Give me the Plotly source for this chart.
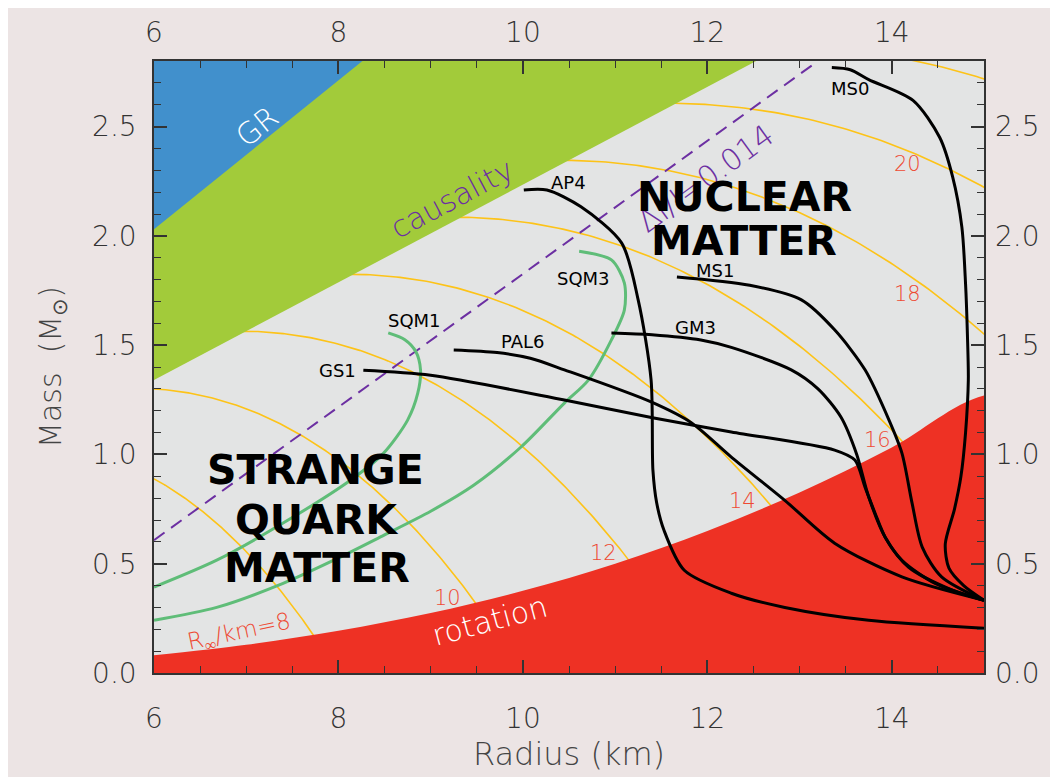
import numpy as np
import plotly.graph_objects as go

# ---------------- data ----------------
radius_range = [6, 15]
mass_range = [0, 2.8]

# GR (Schwarzschild) boundary, causality boundary, rotation (mass-shedding) boundary
gr_R = [6.0, 8.26]
gr_M = [2.03, 2.80]
caus_R = [6.0, 12.53]
caus_M = [1.34, 2.80]
rot_R = [6, 7, 8, 9, 10, 11, 12, 13, 14, 15]
rot_M = [0.081, 0.129, 0.193, 0.274, 0.376, 0.50, 0.65, 0.826, 1.032, 1.27]
# crust moment of inertia line dI/I = 0.014
crust_R = [6.0, 13.2]
crust_M = [0.608, 2.80]

# R_infinity contour levels (km)
rinf_levels = [8, 10, 12, 14, 16, 18, 20, 22]

# neutron-star EOS curves
ms0_R = [13.35, 13.55, 13.75, 14.23, 14.52, 14.66, 14.76, 14.80, 14.82, 14.83, 14.80, 14.75, 14.68, 14.58, 14.62, 14.78, 15.0]
ms0_M = [2.77, 2.76, 2.715, 2.62, 2.45, 2.27, 2.04, 1.78, 1.55, 1.34, 1.10, 0.90, 0.75, 0.59, 0.48, 0.40, 0.333]
ap4_R = [10.01, 10.26, 10.63, 11.07, 11.25, 11.39, 11.41, 11.45, 11.53, 11.75, 12.26, 12.84, 13.75, 15.0]
ap4_M = [2.21, 2.21, 2.133, 1.968, 1.707, 1.341, 0.928, 0.78, 0.653, 0.47, 0.365, 0.30, 0.241, 0.205]
ms1_R = [11.67, 12.46, 13.02, 13.38, 13.71, 13.97, 14.11, 14.22, 14.33, 14.54, 15.0]
ms1_M = [1.812, 1.774, 1.707, 1.57, 1.387, 1.157, 1.006, 0.777, 0.576, 0.44, 0.333]
gm3_R = [10.96, 11.40, 11.93, 12.26, 12.91, 13.20, 13.45, 13.62, 13.75, 13.93, 14.18, 14.65, 15.0]
gm3_M = [1.556, 1.548, 1.524, 1.49, 1.387, 1.30, 1.17, 1.00, 0.805, 0.62, 0.485, 0.38, 0.333]
pal6_R = [9.25, 9.72, 10.08, 10.45, 11.39, 11.83, 12.26, 12.84, 13.38, 14.11, 15.0]
pal6_M = [1.478, 1.466, 1.44, 1.387, 1.24, 1.144, 0.988, 0.79, 0.594, 0.44, 0.333]
gs1_R = [8.27, 9.0, 10.45, 11.42, 12.26, 13.38, 13.60, 13.71, 13.82, 13.93, 14.11, 14.47, 15.0]
gs1_M = [1.385, 1.362, 1.249, 1.167, 1.103, 1.02, 0.974, 0.85, 0.73, 0.62, 0.516, 0.41, 0.333]
# strange quark matter curves
sqm1_R = [8.54, 8.72, 8.84, 8.89, 8.86, 8.75, 8.49, 8.13, 7.40, 6.68, 6.0]
sqm1_M = [1.556, 1.525, 1.47, 1.387, 1.28, 1.157, 1.006, 0.882, 0.686, 0.516, 0.393]
sqm3_R = [10.61, 10.96, 11.10, 11.10, 10.96, 10.71, 10.45, 9.98, 9.47, 9.0, 8.49, 7.95, 7.40, 6.68, 6.0]
sqm3_M = [1.93, 1.89, 1.785, 1.66, 1.524, 1.34, 1.235, 1.034, 0.86, 0.74, 0.63, 0.516, 0.41, 0.30, 0.241]

curve_labels = ["MS0", "AP4", "MS1", "GM3", "SQM3", "SQM1", "PAL6", "GS1"]
curve_label_R = [13.55, 10.49, 12.08, 11.87, 10.66, 8.83, 10.0, 7.985]
curve_label_M = [2.674, 2.244, 1.842, 1.581, 1.805, 1.613, 1.518, 1.385]

rinf_label_text = ["R<sub>∞</sub>/km=8", "10", "12", "14", "16", "18", "20"]
rinf_label_R = [6.93, 9.178, 10.87, 12.377, 13.84, 14.167, 14.167]
rinf_label_M = [0.182, 0.3417, 0.548, 0.788, 1.064, 1.736, 2.331]
rinf_label_angle = [-12, 0, 0, 0, 0, 0, 0]
rinf_label_size = [23, 21, 21, 21, 21, 21, 21]

big_words = ["NUCLEAR", "MATTER", "STRANGE", "QUARK", "MATTER"]
big_words_R = [12.398, 12.398, 7.746, 7.768, 7.768]
big_words_M = [2.176, 1.975, 0.927, 0.699, 0.479]

# ---------------- styles ----------------
FONT = "DejaVu Sans"
C_BLUE = "#4190cc"
C_GREEN = "#a2cb3a"
C_RED = "#ee3124"
C_ORANGE = "#fdc318"
C_PURPLE = "#6c2fa2"
C_SQM = "#5fbd78"
C_LBL = "#ee4a33"
C_AX = "#333333"

fig = go.Figure()

# R_infinity contours: R_inf = R / sqrt(1 - 2GM/Rc^2)
for lev in rinf_levels:
    R = np.linspace(5.9, min(lev, 15.2), 200)
    M = (R / 2.953) * (1 - (R / lev) ** 2)
    fig.add_trace(go.Scatter(x=R, y=M, mode="lines", line=dict(color=C_ORANGE, width=1.6),
                             hoverinfo="skip", showlegend=False))

# causality (green)
fig.add_trace(go.Scatter(x=caus_R + [caus_R[-1], 5.0, 5.0], y=caus_M + [3.5, 3.5, caus_M[0]],
                         fill="toself", fillcolor=C_GREEN, mode="lines", line=dict(width=0, color=C_GREEN),
                         hoverinfo="skip", showlegend=False))
# GR (blue)
fig.add_trace(go.Scatter(x=gr_R + [gr_R[-1], 5.0, 5.0], y=gr_M + [3.5, 3.5, gr_M[0]],
                         fill="toself", fillcolor=C_BLUE, mode="lines", line=dict(width=0, color=C_BLUE),
                         hoverinfo="skip", showlegend=False))
# rotation (red)
fig.add_trace(go.Scatter(x=rot_R + [16, 16, 5, 5], y=rot_M + [rot_M[-1], -1, -1, rot_M[0]],
                         fill="toself", fillcolor=C_RED, mode="lines", line=dict(width=0, color=C_RED, shape="spline"),
                         hoverinfo="skip", showlegend=False))
# crust line (dashed purple)
fig.add_trace(go.Scatter(x=crust_R, y=crust_M, mode="lines",
                         line=dict(color=C_PURPLE, width=2, dash="13px,8px"),
                         hoverinfo="skip", showlegend=False))

# strange quark matter curves
for xs, ys in [(sqm1_R, sqm1_M), (sqm3_R, sqm3_M)]:
    fig.add_trace(go.Scatter(x=xs, y=ys, mode="lines",
                             line=dict(color=C_SQM, width=3, shape="spline", smoothing=0.8),
                             hoverinfo="skip", showlegend=False))
# neutron star curves
for xs, ys in [(ms0_R, ms0_M), (ap4_R, ap4_M), (ms1_R, ms1_M), (gm3_R, gm3_M),
               (pal6_R, pal6_M), (gs1_R, gs1_M)]:
    fig.add_trace(go.Scatter(x=xs, y=ys, mode="lines",
                             line=dict(color="black", width=3, shape="spline", smoothing=0.8),
                             hoverinfo="skip", showlegend=False))

# dummy trace for mirrored labelled axes
fig.add_trace(go.Scatter(x=[None], y=[None], xaxis="x2", yaxis="y2", showlegend=False, hoverinfo="skip"))

ann = []
# region labels
ann.append(dict(x=7.117, y=2.50, text="GR", textangle=-39, font=dict(family=FONT, size=30, color="white", weight=300)))
ann.append(dict(x=9.232, y=2.17, text="causality", textangle=-28, font=dict(family=FONT, size=30, color=C_PURPLE, weight=300)))
ann.append(dict(x=11.976, y=2.263, text="ΔI/I=0.014", textangle=-36, font=dict(family=FONT, size=30, color=C_PURPLE, weight=300)))
ann.append(dict(x=9.644, y=0.241, text="rotation", textangle=-15, font=dict(family=FONT, size=30, color="white", weight=300)))
for t, x, y in zip(big_words, big_words_R, big_words_M):
    ann.append(dict(x=x, y=y, text=t, font=dict(family=FONT, size=41, color="black", weight="bold")))
for t, x, y in zip(curve_labels, curve_label_R, curve_label_M):
    ann.append(dict(x=x, y=y, text=t, font=dict(family=FONT, size=18, color="black")))
for t, x, y, a, s in zip(rinf_label_text, rinf_label_R, rinf_label_M, rinf_label_angle, rinf_label_size):
    ann.append(dict(x=x, y=y, text=t, textangle=a, font=dict(family=FONT, size=s, color=C_LBL, weight=300)))
for a in ann:
    a.update(xref="x", yref="y", showarrow=False, xanchor="center", yanchor="middle")

tickfont = dict(family=FONT, size=28, color=C_AX, weight=300)
axis_common = dict(showline=True, linecolor=C_AX, linewidth=1.5, mirror="ticks", ticks="inside",
                   tickcolor=C_AX, tickwidth=1.5, ticklen=13, showgrid=False, zeroline=False,
                   tickfont=tickfont, automargin=False)

fig.update_layout(
    width=1050, height=769,
    margin=dict(l=146, r=74, t=53, b=104),
    paper_bgcolor="#ece4e4",
    plot_bgcolor="#e3e4e4",
    showlegend=False,
    annotations=ann,
    xaxis=dict(range=radius_range, tick0=6, dtick=2, **axis_common,
               minor=dict(dtick=0.5, ticks="inside", ticklen=7, tickcolor=C_AX, tickwidth=1),
               title=dict(text="Radius (km)", font=dict(family=FONT, size=32, color="#444", weight=300), standoff=6),
               ticklabelstandoff=20),
    yaxis=dict(range=mass_range, tick0=0, dtick=0.5, tickformat=".1f", **axis_common,
               minor=dict(dtick=0.1, ticks="inside", ticklen=7, tickcolor=C_AX, tickwidth=1),
               title=dict(text="Mass  (M<sub>⊙</sub>)", font=dict(family=FONT, size=30, color="#444", weight=300), standoff=22),
               ticklabelstandoff=10),
    xaxis2=dict(range=radius_range, tick0=6, dtick=2, overlaying="x", side="top", ticks="",
                showline=False, showgrid=False, zeroline=False, tickfont=tickfont, ticklabelstandoff=12,
                automargin=False),
    yaxis2=dict(range=mass_range, tick0=0, dtick=0.5, tickformat=".1f", overlaying="y", side="right",
                ticks="", showline=False, showgrid=False, zeroline=False, tickfont=tickfont,
                ticklabelstandoff=10, automargin=False),
)

fig.write_html("out.html")
